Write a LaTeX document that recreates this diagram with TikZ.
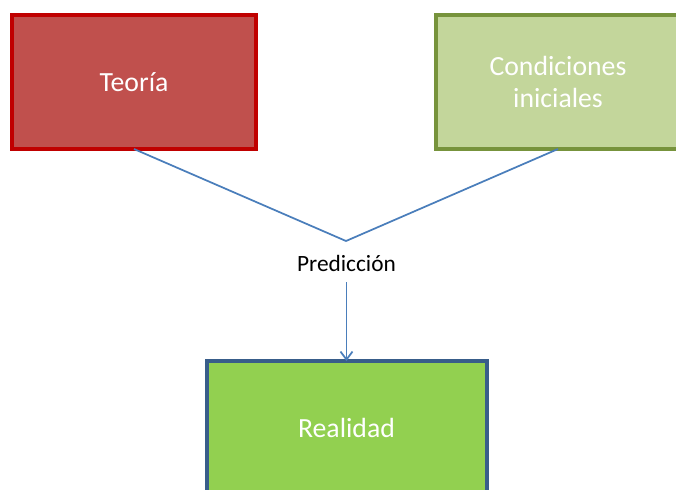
\documentclass[tikz,border=0pt]{standalone}
\usepackage{fontspec}
\setmainfont{Carlito}
\definecolor{pdTeoFill}{HTML}{C0504D}
\definecolor{pdTeoEdge}{HTML}{C00000}
\definecolor{pdCondFill}{HTML}{C3D69B}
\definecolor{pdCondEdge}{HTML}{77933C}
\definecolor{pdRealFill}{HTML}{92D050}
\definecolor{pdRealEdge}{HTML}{385D8A}
\definecolor{pdLink}{HTML}{4A7EBB}
\usetikzlibrary{arrows.meta}

\tikzset{
  pdbox/.style={draw, line width=3pt, minimum width=183pt, minimum height=100.5pt,
    inner sep=0pt, outer sep=0pt, align=center, text=white,
    font=\fontsize{20.8}{24.5}\selectfont},
  pdlink/.style={draw=pdLink, line width=1.3pt},
}

\begin{document}
\begin{tikzpicture}[x=0.75pt, y=-0.75pt]
  \clip (0,0) rectangle (676,490);
  \node[pdbox, fill=pdTeoFill, draw=pdTeoEdge] (teoria) at (134,82) {Teoría};
  \node[pdbox, fill=pdCondFill, draw=pdCondEdge] (cond) at (558,82) {Condiciones\\iniciales};
  \node[pdbox, fill=pdRealFill, draw=pdRealEdge, minimum width=210pt] (real) at (346.5,428) {Realidad};
  \node[font=\fontsize{17.5}{20}\selectfont, inner sep=8pt] (pred) at (346.5,263) {Predicción};
  \coordinate (vtx) at (346,241);
  \draw[pdlink] (teoria.south) -- (vtx) -- (cond.south);
  \draw[pdlink, -{Straight Barb[length=6pt, width=9pt]}] (pred.south) -- (real.north);
\end{tikzpicture}
\end{document}
